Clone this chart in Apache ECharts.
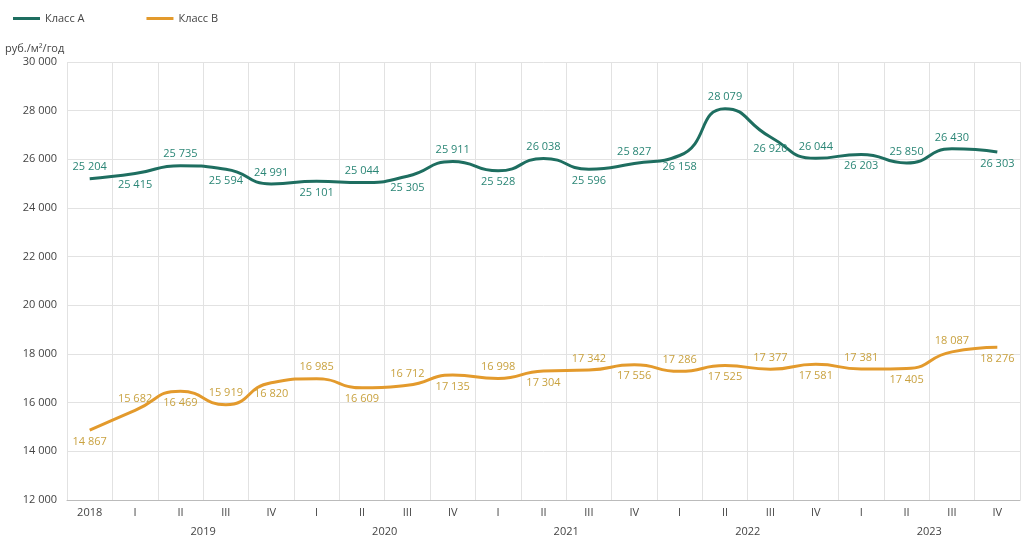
<!DOCTYPE html>
<html><head><meta charset="utf-8">
<script src="https://cdn.jsdelivr.net/npm/echarts@6/dist/echarts.min.js"></script>
<style>html,body{margin:0;padding:0;background:#fff}#c{width:1032px;height:543px}</style>
</head><body><div id="c"></div>
<script>
const categories = ['2018','I','II','III','IV','I','II','III','IV','I','II','III','IV','I','II','III','IV','I','II','III','IV'];
const yearLabels = ['2019','2020','2021','2022','2023'];
const classA = [25204,25415,25735,25594,24991,25101,25044,25305,25911,25528,26038,25596,25827,26158,28079,26920,26044,26203,25850,26430,26303];
const classB = [14867,15682,16469,15919,16820,16985,16609,16712,17135,16998,17304,17342,17556,17286,17525,17377,17581,17381,17405,18087,18276];
const posA = ['top','bottom','top','bottom','top','bottom','top','bottom','top','bottom','top','bottom','top','bottom','top','bottom','top','bottom','top','top','bottom'];
const posB = ['bottom','top','bottom','top','bottom','top','bottom','top','bottom','top','bottom','top','bottom','top','bottom','top','bottom','top','bottom','top','bottom'];

const fmt = v => String(v).replace(/\B(?=(\d{3})+(?!\d))/g, ' ');
const FONT = 'Open Sans';
const chart = echarts.init(document.getElementById('c'));
chart.setOption({
  animation:false,
  textStyle:{fontFamily:FONT},
  legend:{left:8,top:8,itemWidth:27,itemHeight:3,itemGap:62,icon:'rect',
    textStyle:{fontSize:11,color:'#444',fontFamily:FONT},
    data:['Класс А','Класс В']},
  grid:{left:67,right:12,top:62,bottom:43},
  xAxis:[{type:'category',data:categories,boundaryGap:true,
    axisLine:{lineStyle:{color:'#bbb'}},axisTick:{show:false},
    axisLabel:{color:'#444',fontSize:11,margin:7,fontFamily:FONT},
    splitLine:{show:true,lineStyle:{color:'#e2e2e2'}}},
   {type:'value',min:0,max:21,interval:1,position:'bottom',
    axisLine:{show:false},axisTick:{show:false},splitLine:{show:false},
    axisLabel:{color:'#444',fontSize:11,margin:26,fontFamily:FONT,
      formatter:v=>{const i=(v-3)/4;return (Number.isInteger(i)&&i>=0&&i<yearLabels.length)?yearLabels[i]:'';}}}],
  yAxis:{type:'value',min:12000,max:30000,interval:2000,
    name:'руб./м²/год',nameLocation:'end',nameGap:8,
    nameTextStyle:{align:'left',padding:[0,0,0,-62],color:'#444',fontSize:11,fontFamily:FONT},
    axisLine:{show:false},axisTick:{show:false},
    axisLabel:{color:'#444',fontSize:11,margin:10,formatter:fmt,fontFamily:FONT},
    splitLine:{lineStyle:{color:'#e2e2e2'}}},
  series:[
   {name:'Класс А',type:'line',smooth:0.55,symbol:'circle',symbolSize:0,showSymbol:true,
    data:classA.map((v,i)=>({value:v,label:{position:posA[i]}})),
    lineStyle:{width:3,color:'#1e6e60'},itemStyle:{color:'#1e6e60'},
    label:{show:true,formatter:p=>fmt(p.value),color:'#2b8676',fontSize:11,distance:6,fontFamily:FONT}},
   {name:'Класс В',type:'line',smooth:0.55,symbol:'circle',symbolSize:0,showSymbol:true,
    data:classB.map((v,i)=>({value:v,label:{position:posB[i]}})),
    lineStyle:{width:3,color:'#e39a2c'},itemStyle:{color:'#e39a2c'},
    label:{show:true,formatter:p=>fmt(p.value),color:'#c9a240',fontSize:11,distance:6,fontFamily:FONT}}
  ]
});
</script></body></html>
